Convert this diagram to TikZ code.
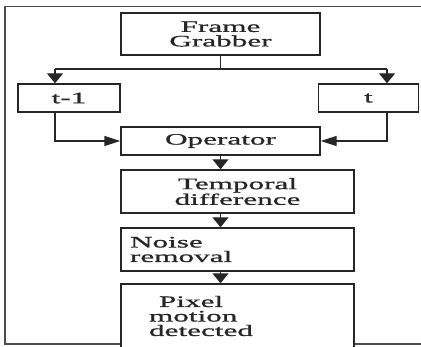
\documentclass[tikz,border=0pt]{standalone}
\usepackage{fontspec}
\newfontfamily\blockfont[FakeStretch=1.95,FakeBold=1]{Liberation Serif}
\usetikzlibrary{arrows.meta}
\tikzset{
    block/.style={draw=black!85,line width=1.4pt,fill=white,inner sep=0pt,align=center,
        text=black!85,font=\blockfont\fontsize{16}{14.5}\selectfont},
    wire/.style={draw=black!85,line width=1.4pt},
    down/.style={wire,-{Triangle[width=16pt,length=10pt]}},
    side/.style={wire,-{Triangle[width=10pt,length=16pt]}}
}
\newcommand{\wideBlock}[4]{%
    \node[block,minimum width=199pt,minimum height=#3] (#1) at (220.5,#2) {#4};
}
\newcommand{\stageBlock}[6]{%
    \node[block,text width=#3,inner xsep=#4,minimum height=#5,align=left] (#1) at (237.5,#2) {#6};
}
\begin{document}
\begin{tikzpicture}[x=1pt,y=1pt]
    \useasboundingbox (0,0) rectangle (421,346);
    \clip (0,0) rectangle (421,346);
    %frame
    \draw[black!70,line width=1.2pt] (430,339.3) -- (5,339.3) -- (5,2) -- (430,2);
    %top
    \wideBlock{fg}{312}{42pt}{Frame\\Grabber}
    \node[block,minimum width=102pt,minimum height=28pt] (tm1) at (69,248) {t-1};
    \node[block,minimum width=100pt,minimum height=28pt] (t) at (368.5,248) {t};
    \wideBlock{op}{205}{28pt}{Operator}
    %stages
    \node[block,minimum width=233pt,minimum height=43pt] (temp) at (237.5,154.5) {Temporal\\difference};
    \stageBlock{noise}{96.5}{215pt}{9pt}{43pt}{Noise\\removal}
    \stageBlock{pix}{30}{177pt}{28pt}{64pt}{\hspace{10pt}Pixel\\motion\\detected}
    %split
    \coordinate (jl) at (55,277);
    \coordinate (jr) at (387,277);
    \draw[wire] (fg.south) -- (fg.south |- jl);
    \draw[wire] (jl) -- (jr);
    \draw[down] (jl) -- (jl |- tm1.north);
    \draw[down] (jr) -- (jr |- t.north);
    %merge
    \draw[side] (jl |- tm1.south) |- (op.west);
    \draw[side] (jr |- t.south) |- (op.east);
    %chain
    \draw[down] (op.south) -- (op.south |- temp.north);
    \draw[down] (op.south |- temp.south) -- (op.south |- noise.north);
    \draw[down] (op.south |- noise.south) -- (op.south |- pix.north);
\end{tikzpicture}
\end{document}
